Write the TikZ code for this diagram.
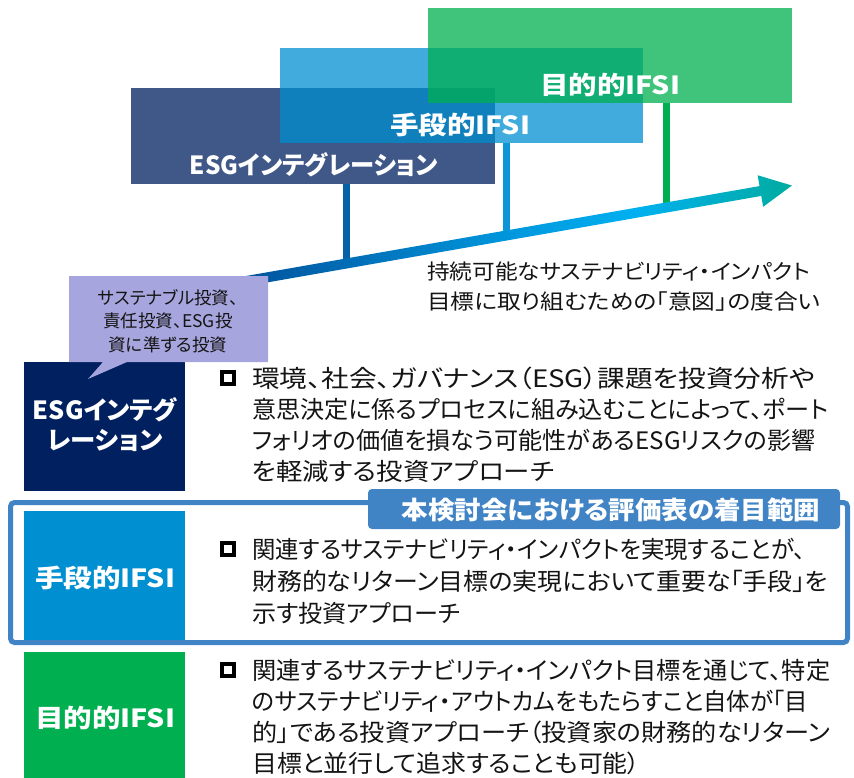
\documentclass[tikz,border=0pt]{standalone}
\usepackage{fontspec}
\usepackage{graphicx}
\setmainfont{Noto Sans CJK JP}[RawFeature=+palt]
\definecolor{cesg}{RGB}{0,32,96}
\definecolor{cmid}{RGB}{0,143,208}
\definecolor{cgrn}{RGB}{0,176,80}
\definecolor{cpur}{RGB}{167,165,221}
\definecolor{cframe}{RGB}{65,132,198}
\definecolor{lesgc}{RGB}{5,99,165}
\definecolor{lmidc}{RGB}{12,150,215}
\definecolor{ga}{RGB}{0,70,145}
\definecolor{gb}{RGB}{0,150,220}
\definecolor{gc}{RGB}{0,176,240}
\definecolor{gd}{RGB}{0,172,160}
\definecolor{ctxt}{RGB}{20,20,20}
\newcommand{\fitw}[2]{\resizebox{#1pt}{\height}{#2}}
\pgfdeclarehorizontalshading{arrowgrad}{100bp}{color(0bp)=(ga); color(25bp)=(ga); color(51bp)=(gb); color(62bp)=(gc); color(75bp)=(gd); color(100bp)=(gd)}
\begin{document}
\begin{tikzpicture}[x=1pt,y=-1pt,
  topbox/.style={rectangle,inner sep=0,minimum width=364pt,minimum height=96pt,fill opacity=0.75},
  toptext/.style={text=white,font=\fontsize{25}{28}\selectfont\bfseries,inner sep=0},
  leftbox/.style={rectangle,inner sep=0,minimum width=161pt},
  lefttext/.style={text=white,font=\fontsize{25}{30}\selectfont\bfseries,inner sep=0,align=center},
  body/.style={text=ctxt,font=\fontsize{24}{31}\selectfont,inner sep=0,anchor=base west},
  bulletbox/.style={draw=black,line width=4pt,minimum size=12pt,inner sep=0,rectangle},
  vline/.style={line width=7pt},
]
\useasboundingbox (0,0) rectangle (854,778);
% top boxes
\node[topbox,fill=cesg] (tesg) at (313,136) {};
\node[topbox,fill=cmid,minimum width=363pt,minimum height=95pt] (tmid) at (461.5,95.5) {};
\node[topbox,fill=cgrn,minimum height=95pt] (tgrn) at (610,55.5) {};
\node[toptext] (tesgl) at (314,165) {\fitw{248}{ESGインテグレーション}};
\node[toptext] (tmidl) at (460,125) {\fitw{140}{手段的IFSI}};
\node[toptext] (tgrnl) at (610,85) {\fitw{140}{目的的IFSI}};
% vertical lines
\coordinate (a1) at (346,264);
\coordinate (a2) at (506,236);
\coordinate (a3) at (666,208);
\draw[vline,draw=lesgc] (tesg.south -| a1) -- (a1);
\draw[vline,draw=lmidc] (tmid.south -| a2) -- (a2);
\draw[vline,draw=cgrn] (tgrn.south -| a3) -- (a3);
% arrow
\begin{scope}[shift={(195,290)},rotate=9.93]
\shade[shading=arrowgrad] (0,-5) -- (574,-5) -- (574,-16) -- (606,0) -- (574,16) -- (574,5) -- (0,5) -- cycle;
\end{scope}
\node[text=ctxt,font=\fontsize{21}{30}\selectfont,inner sep=0,anchor=base west] (axis1) at (427,279) {\fitw{383}{持続可能なサステナビリティ・インパクト}};
\node[text=ctxt,font=\fontsize{21}{30}\selectfont,inner sep=0,anchor=base west] (axis2) at (427,309) {\fitw{393}{目標に取り組むための「意図」の度合い}};
% left boxes
\node[leftbox,fill=cesg,minimum height=129pt] (lesg) at (104.5,426.5) {};
\node[leftbox,fill=cmid,minimum height=129pt] (lmid) at (104.5,575.5) {};
\node[leftbox,fill=cgrn,minimum height=128pt] (lgrn) at (104.5,716) {};
\node[lefttext] (lesgt) at (105,425) {\fitw{144}{ESGインテグ}\\\fitw{115}{レーション}};
\node[lefttext] (lmidt) at (105,578) {\fitw{140}{手段的IFSI}};
\node[lefttext] (lgrnt) at (105,718) {\fitw{140}{目的的IFSI}};
% callout
\fill[cpur] (69,276) -- (268,276) -- (268,362) -- (127,362) -- (88,379) -- (103,362) -- (69,362) -- cycle;
\node[text=ctxt,font=\fontsize{17.5}{23.5}\selectfont,inner sep=0,align=center] (callt) at (168,321) {サステナブル投資、\\責任投資、ESG投\\資に準ずる投資};
% frame and tab
\draw[cframe,line width=5pt,rounded corners=4pt] (10.5,502.5) rectangle (847.5,642.5);
\fill[cframe,rounded corners=4pt] (368,489) rectangle (840,529);
\node[text=white,font=\fontsize{25}{30}\selectfont\bfseries,inner sep=0] (tabt) at (611,510) {\fitw{418}{本検討会における評価表の着目範囲}};
% bullets
\node[bulletbox] (b1) at (228,378) {};
\node[bulletbox] (b2) at (228,549) {};
\node[bulletbox] (b3) at (228,670) {};
% body texts
\foreach \w/\t [count=\i] in {563/環境、社会、ガバナンス（ESG）課題を投資分析や,576/意思決定に係るプロセスに組み込むことによって、ポート,563/フォリオの価値を損なう可能性があるESGリスクの影響,302/を軽減する投資アプローチ}
  \node[body] (e\i) at (252,{387+31*(\i-1)}) {\fitw{\w}{\t}};
\foreach \w/\t [count=\i] in {553/関連するサステナビリティ・インパクトを実現することが、,576/財務的なリターン目標の実現において重要な「手段」を,208/示す投資アプローチ}
  \node[body] (m\i) at (252,{558+32*(\i-1)}) {\fitw{\w}{\t}};
\foreach \w/\t [count=\i] in {578/関連するサステナビリティ・インパクト目標を通じて、特定,556/のサステナビリティ・アウトカムをもたらすこと自体が「目,578/的」である投資アプローチ（投資家の財務的なリターン,388/目標と並行して追求することも可能）}
  \node[body] (g\i) at (252,{679+31.3*(\i-1)}) {\fitw{\w}{\t}};
\end{tikzpicture}
\end{document}
